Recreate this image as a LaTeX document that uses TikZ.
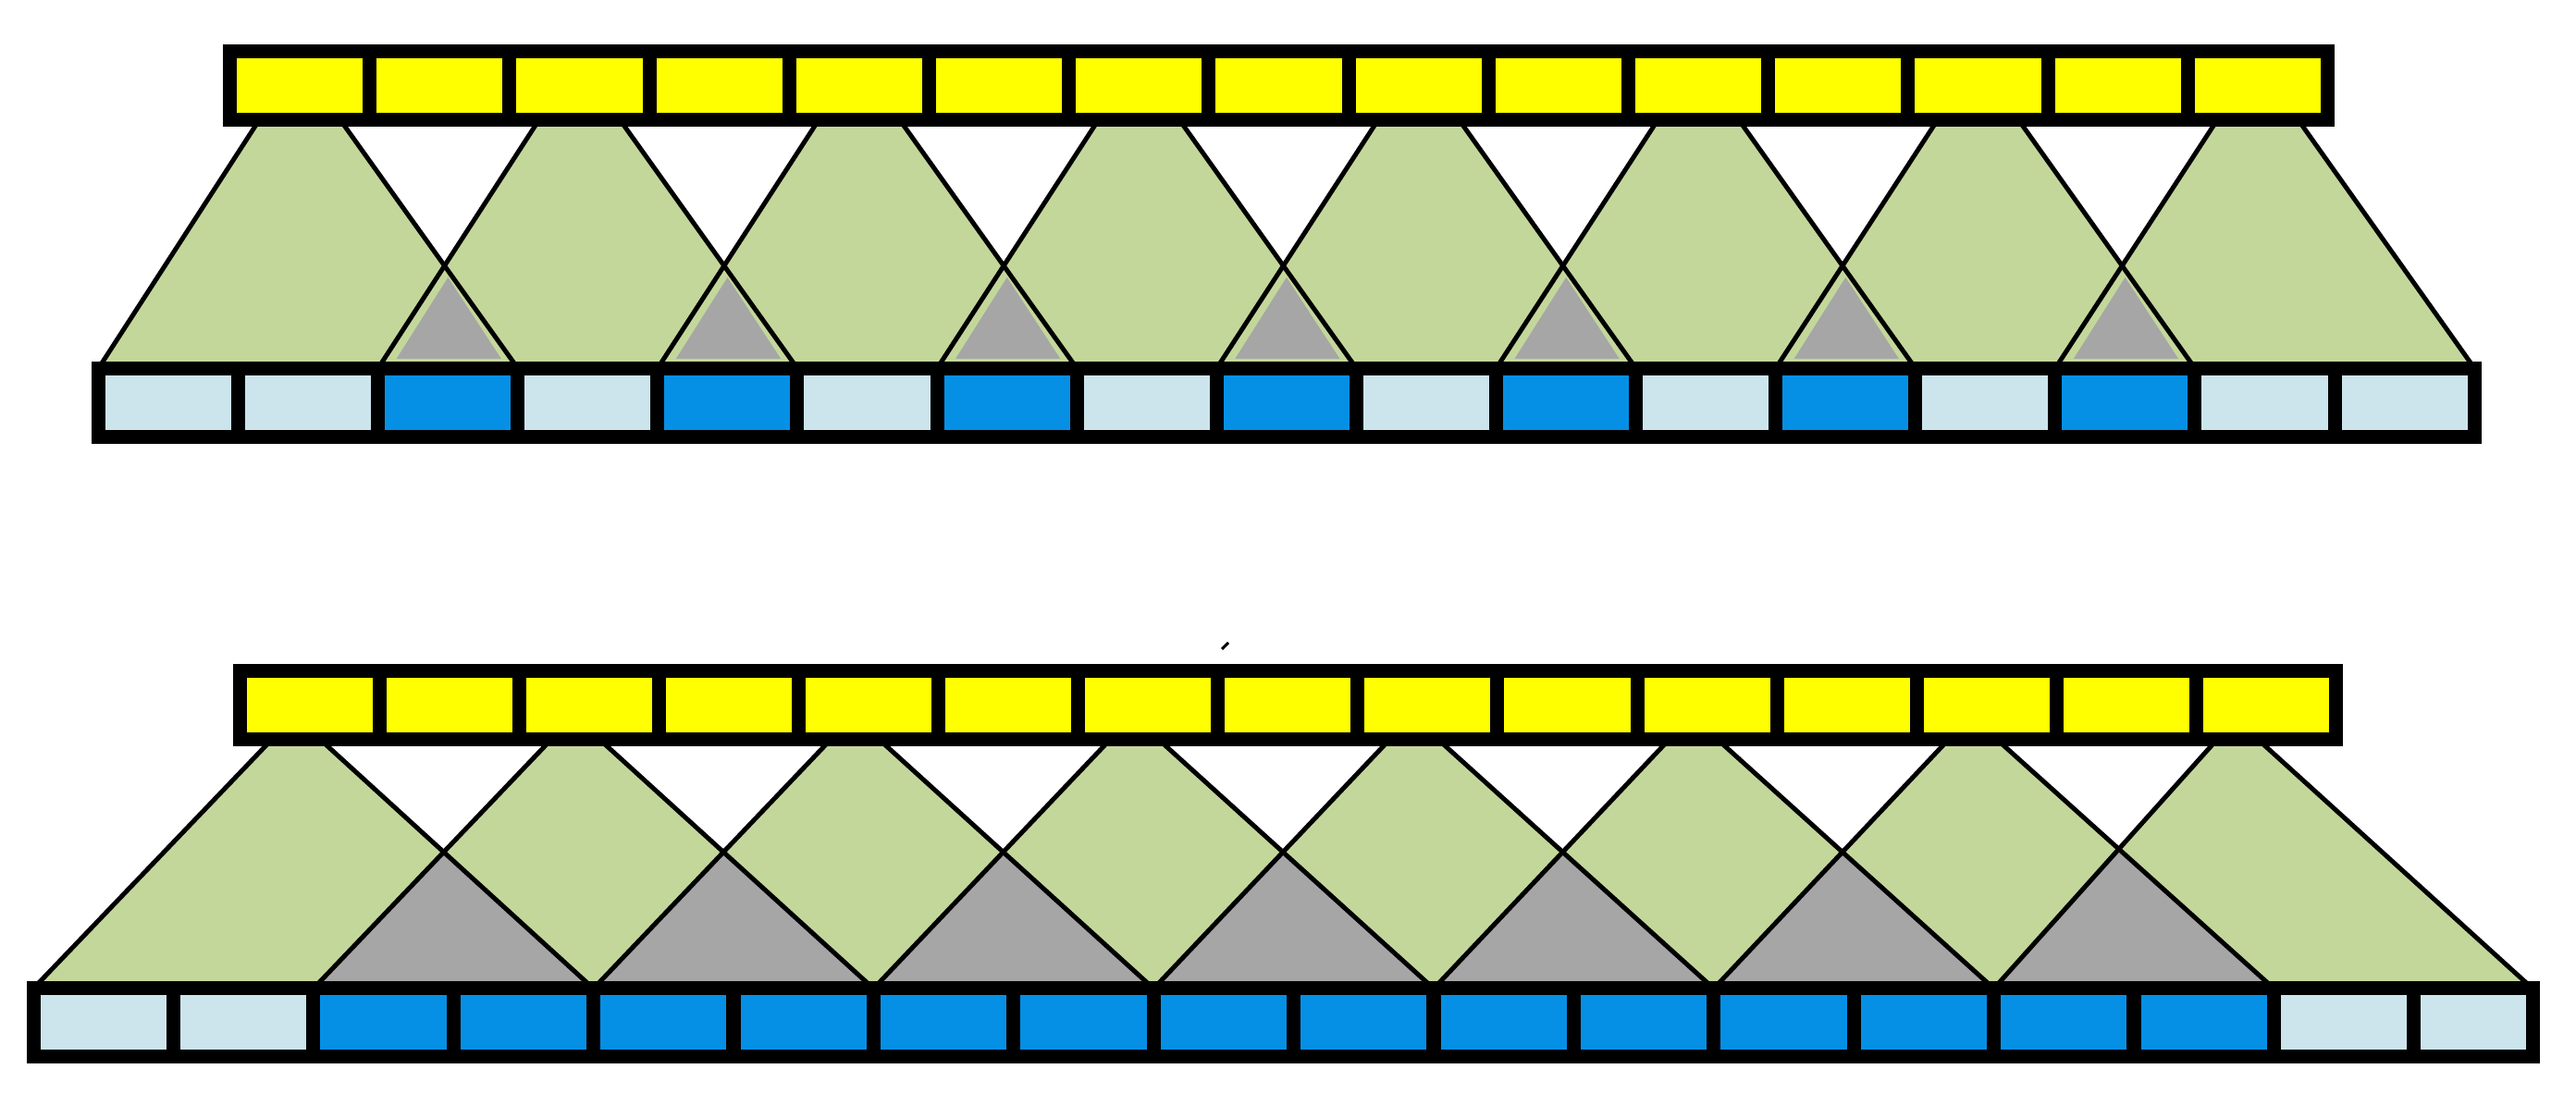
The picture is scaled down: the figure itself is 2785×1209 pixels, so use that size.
\documentclass[tikz,border=0pt]{standalone}
\usetikzlibrary{backgrounds}
\definecolor{cellyellow}{RGB}{255,255,0}
\definecolor{paleblue}{RGB}{204,228,236}
\definecolor{deepblue}{RGB}{5,144,230}
\definecolor{leafgreen}{RGB}{196,215,155}
\definecolor{lapgray}{RGB}{166,166,166}
\begin{document}
\begin{tikzpicture}[>=latex,line join=bevel,
  cell/.style={draw=black,line width=15bp,line join=miter,inner sep=0pt,outer sep=0pt,minimum width=151.3bp,minimum height=74bp},
  yel/.style={cell,fill=cellyellow},
  pale/.style={cell,fill=paleblue},
  blu/.style={cell,fill=deepblue},
  leaf/.style={fill=leafgreen},
  lap/.style={fill=lapgray},
  rim/.style={draw=black,line width=5bp},
]
%%
\useasboundingbox (0bp,0bp) rectangle (2785bp,1209bp);
  \node (t1-0) at (324.1bp,1116bp) [yel] {};
  \node (t1-1) at (475.3bp,1116bp) [yel] {};
  \node (t1-2) at (626.5bp,1116bp) [yel] {};
  \node (t1-3) at (777.7bp,1116bp) [yel] {};
  \node (t1-4) at (928.9bp,1116bp) [yel] {};
  \node (t1-5) at (1080.1bp,1116bp) [yel] {};
  \node (t1-6) at (1231.3bp,1116bp) [yel] {};
  \node (t1-7) at (1382.5bp,1116bp) [yel] {};
  \node (t1-8) at (1533.7bp,1116bp) [yel] {};
  \node (t1-9) at (1684.9bp,1116bp) [yel] {};
  \node (t1-10) at (1836.1bp,1116bp) [yel] {};
  \node (t1-11) at (1987.3bp,1116bp) [yel] {};
  \node (t1-12) at (2138.5bp,1116bp) [yel] {};
  \node (t1-13) at (2289.7bp,1116bp) [yel] {};
  \node (t1-14) at (2440.9bp,1116bp) [yel] {};
  \node (b1-0) at (182.0bp,773.5bp) [pale] {};
  \node (b1-1) at (333.2bp,773.5bp) [pale] {};
  \node (b1-2) at (484.3bp,773.5bp) [blu] {};
  \node (b1-3) at (635.4bp,773.5bp) [pale] {};
  \node (b1-4) at (786.5bp,773.5bp) [blu] {};
  \node (b1-5) at (937.6bp,773.5bp) [pale] {};
  \node (b1-6) at (1088.7bp,773.5bp) [blu] {};
  \node (b1-7) at (1239.8bp,773.5bp) [pale] {};
  \node (b1-8) at (1390.9bp,773.5bp) [blu] {};
  \node (b1-9) at (1542.0bp,773.5bp) [pale] {};
  \node (b1-10) at (1693.1bp,773.5bp) [blu] {};
  \node (b1-11) at (1844.2bp,773.5bp) [pale] {};
  \node (b1-12) at (1995.3bp,773.5bp) [blu] {};
  \node (b1-13) at (2146.4bp,773.5bp) [pale] {};
  \node (b1-14) at (2297.5bp,773.5bp) [blu] {};
  \node (b1-15) at (2448.6bp,773.5bp) [pale] {};
  \node (b1-16) at (2599.7bp,773.5bp) [pale] {};
  \node (t2-0) at (335.0bp,446.5bp) [yel] {};
  \node (t2-1) at (486.1bp,446.5bp) [yel] {};
  \node (t2-2) at (637.1bp,446.5bp) [yel] {};
  \node (t2-3) at (788.2bp,446.5bp) [yel] {};
  \node (t2-4) at (939.3bp,446.5bp) [yel] {};
  \node (t2-5) at (1090.4bp,446.5bp) [yel] {};
  \node (t2-6) at (1241.4bp,446.5bp) [yel] {};
  \node (t2-7) at (1392.5bp,446.5bp) [yel] {};
  \node (t2-8) at (1543.6bp,446.5bp) [yel] {};
  \node (t2-9) at (1694.6bp,446.5bp) [yel] {};
  \node (t2-10) at (1845.7bp,446.5bp) [yel] {};
  \node (t2-11) at (1996.8bp,446.5bp) [yel] {};
  \node (t2-12) at (2147.8bp,446.5bp) [yel] {};
  \node (t2-13) at (2298.9bp,446.5bp) [yel] {};
  \node (t2-14) at (2450.0bp,446.5bp) [yel] {};
  \node (b2-0) at (111.7bp,103bp) [pale] {};
  \node (b2-1) at (263.1bp,103bp) [pale] {};
  \node (b2-2) at (414.5bp,103bp) [blu] {};
  \node (b2-3) at (565.9bp,103bp) [blu] {};
  \node (b2-4) at (717.3bp,103bp) [blu] {};
  \node (b2-5) at (868.7bp,103bp) [blu] {};
  \node (b2-6) at (1020.1bp,103bp) [blu] {};
  \node (b2-7) at (1171.5bp,103bp) [blu] {};
  \node (b2-8) at (1322.9bp,103bp) [blu] {};
  \node (b2-9) at (1474.3bp,103bp) [blu] {};
  \node (b2-10) at (1625.7bp,103bp) [blu] {};
  \node (b2-11) at (1777.1bp,103bp) [blu] {};
  \node (b2-12) at (1928.5bp,103bp) [blu] {};
  \node (b2-13) at (2079.9bp,103bp) [blu] {};
  \node (b2-14) at (2231.3bp,103bp) [blu] {};
  \node (b2-15) at (2382.7bp,103bp) [blu] {};
  \node (b2-16) at (2534.1bp,103bp) [pale] {};
  \node (b2-17) at (2673.9bp,103bp) [pale,minimum width=128.2bp] {};
  \draw [line width=3bp] (1321bp,507bp) -- (1328bp,514bp);
\begin{scope}[on background layer]
  \fill [white] (0bp,0bp) rectangle (2785bp,1209bp);
  \fill [leaf] ([xshift=-44bp]t1-0.south) -- ([xshift=44bp]t1-0.south) -- (b1-2.north east) -- (b1-0.north west) -- cycle;
  \fill [leaf] ([xshift=-44bp]t1-2.south) -- ([xshift=44bp]t1-2.south) -- (b1-4.north east) -- (b1-2.north west) -- cycle;
  \fill [leaf] ([xshift=-44bp]t1-4.south) -- ([xshift=44bp]t1-4.south) -- (b1-6.north east) -- (b1-4.north west) -- cycle;
  \fill [leaf] ([xshift=-44bp]t1-6.south) -- ([xshift=44bp]t1-6.south) -- (b1-8.north east) -- (b1-6.north west) -- cycle;
  \fill [leaf] ([xshift=-44bp]t1-8.south) -- ([xshift=44bp]t1-8.south) -- (b1-10.north east) -- (b1-8.north west) -- cycle;
  \fill [leaf] ([xshift=-44bp]t1-10.south) -- ([xshift=44bp]t1-10.south) -- (b1-12.north east) -- (b1-10.north west) -- cycle;
  \fill [leaf] ([xshift=-44bp]t1-12.south) -- ([xshift=44bp]t1-12.south) -- (b1-14.north east) -- (b1-12.north west) -- cycle;
  \fill [leaf] ([xshift=-44bp]t1-14.south) -- ([xshift=44bp]t1-14.south) -- (b1-16.north east) -- (b1-14.north west) -- cycle;
  \fill [lap] ([xshift=20bp,yshift=10.5bp]b1-2.north west) -- ([yshift=98.5bp]b1-2.north) -- ([xshift=-18bp,yshift=10.5bp]b1-2.north east) -- cycle;
  \fill [lap] ([xshift=20bp,yshift=10.5bp]b1-4.north west) -- ([yshift=98.5bp]b1-4.north) -- ([xshift=-18bp,yshift=10.5bp]b1-4.north east) -- cycle;
  \fill [lap] ([xshift=20bp,yshift=10.5bp]b1-6.north west) -- ([yshift=98.5bp]b1-6.north) -- ([xshift=-18bp,yshift=10.5bp]b1-6.north east) -- cycle;
  \fill [lap] ([xshift=20bp,yshift=10.5bp]b1-8.north west) -- ([yshift=98.5bp]b1-8.north) -- ([xshift=-18bp,yshift=10.5bp]b1-8.north east) -- cycle;
  \fill [lap] ([xshift=20bp,yshift=10.5bp]b1-10.north west) -- ([yshift=98.5bp]b1-10.north) -- ([xshift=-18bp,yshift=10.5bp]b1-10.north east) -- cycle;
  \fill [lap] ([xshift=20bp,yshift=10.5bp]b1-12.north west) -- ([yshift=98.5bp]b1-12.north) -- ([xshift=-18bp,yshift=10.5bp]b1-12.north east) -- cycle;
  \fill [lap] ([xshift=20bp,yshift=10.5bp]b1-14.north west) -- ([yshift=98.5bp]b1-14.north) -- ([xshift=-18bp,yshift=10.5bp]b1-14.north east) -- cycle;
  \draw [rim] (b1-0.north west) -- ([xshift=-44bp]t1-0.south);
  \draw [rim] (b1-2.north east) -- ([xshift=44bp]t1-0.south);
  \draw [rim] (b1-2.north west) -- ([xshift=-44bp]t1-2.south);
  \draw [rim] (b1-4.north east) -- ([xshift=44bp]t1-2.south);
  \draw [rim] (b1-4.north west) -- ([xshift=-44bp]t1-4.south);
  \draw [rim] (b1-6.north east) -- ([xshift=44bp]t1-4.south);
  \draw [rim] (b1-6.north west) -- ([xshift=-44bp]t1-6.south);
  \draw [rim] (b1-8.north east) -- ([xshift=44bp]t1-6.south);
  \draw [rim] (b1-8.north west) -- ([xshift=-44bp]t1-8.south);
  \draw [rim] (b1-10.north east) -- ([xshift=44bp]t1-8.south);
  \draw [rim] (b1-10.north west) -- ([xshift=-44bp]t1-10.south);
  \draw [rim] (b1-12.north east) -- ([xshift=44bp]t1-10.south);
  \draw [rim] (b1-12.north west) -- ([xshift=-44bp]t1-12.south);
  \draw [rim] (b1-14.north east) -- ([xshift=44bp]t1-12.south);
  \draw [rim] (b1-14.north west) -- ([xshift=-44bp]t1-14.south);
  \draw [rim] (b1-16.north east) -- ([xshift=44bp]t1-14.south);
  \fill [leaf] ([xshift=-41bp]t2-0.south) -- ([xshift=11bp]t2-0.south) -- (b2-3.north east) -- (b2-0.north west) -- cycle;
  \fill [leaf] ([xshift=-41bp]t2-2.south) -- ([xshift=11bp]t2-2.south) -- (b2-5.north east) -- (b2-2.north west) -- cycle;
  \fill [leaf] ([xshift=-41bp]t2-4.south) -- ([xshift=11bp]t2-4.south) -- (b2-7.north east) -- (b2-4.north west) -- cycle;
  \fill [leaf] ([xshift=-41bp]t2-6.south) -- ([xshift=11bp]t2-6.south) -- (b2-9.north east) -- (b2-6.north west) -- cycle;
  \fill [leaf] ([xshift=-41bp]t2-8.south) -- ([xshift=11bp]t2-8.south) -- (b2-11.north east) -- (b2-8.north west) -- cycle;
  \fill [leaf] ([xshift=-41bp]t2-10.south) -- ([xshift=11bp]t2-10.south) -- (b2-13.north east) -- (b2-10.north west) -- cycle;
  \fill [leaf] ([xshift=-41bp]t2-12.south) -- ([xshift=11bp]t2-12.south) -- (b2-15.north east) -- (b2-12.north west) -- cycle;
  \fill [leaf] ([xshift=-53bp]t2-14.south) -- ([xshift=-9bp]t2-14.south) -- (b2-17.north east) -- (b2-14.north west) -- cycle;
  \fill [lap] (b2-2.north west) -- (479.7bp,287.2bp) -- (b2-3.north east) -- cycle;
  \fill [lap] (b2-4.north west) -- (782.2bp,287.2bp) -- (b2-5.north east) -- cycle;
  \fill [lap] (b2-6.north west) -- (1084.6bp,287.2bp) -- (b2-7.north east) -- cycle;
  \fill [lap] (b2-8.north west) -- (1387.0bp,287.2bp) -- (b2-9.north east) -- cycle;
  \fill [lap] (b2-10.north west) -- (1689.5bp,287.2bp) -- (b2-11.north east) -- cycle;
  \fill [lap] (b2-12.north west) -- (1991.9bp,287.2bp) -- (b2-13.north east) -- cycle;
  \fill [lap] (b2-14.north west) -- (2290.7bp,290.5bp) -- (b2-15.north east) -- cycle;
  \draw [rim] (b2-0.north west) -- ([xshift=-41bp]t2-0.south);
  \draw [rim] (b2-3.north east) -- ([xshift=11bp]t2-0.south);
  \draw [rim] (b2-2.north west) -- ([xshift=-41bp]t2-2.south);
  \draw [rim] (b2-5.north east) -- ([xshift=11bp]t2-2.south);
  \draw [rim] (b2-4.north west) -- ([xshift=-41bp]t2-4.south);
  \draw [rim] (b2-7.north east) -- ([xshift=11bp]t2-4.south);
  \draw [rim] (b2-6.north west) -- ([xshift=-41bp]t2-6.south);
  \draw [rim] (b2-9.north east) -- ([xshift=11bp]t2-6.south);
  \draw [rim] (b2-8.north west) -- ([xshift=-41bp]t2-8.south);
  \draw [rim] (b2-11.north east) -- ([xshift=11bp]t2-8.south);
  \draw [rim] (b2-10.north west) -- ([xshift=-41bp]t2-10.south);
  \draw [rim] (b2-13.north east) -- ([xshift=11bp]t2-10.south);
  \draw [rim] (b2-12.north west) -- ([xshift=-41bp]t2-12.south);
  \draw [rim] (b2-15.north east) -- ([xshift=11bp]t2-12.south);
  \draw [rim] (b2-14.north west) -- ([xshift=-53bp]t2-14.south);
  \draw [rim] (b2-17.north east) -- ([xshift=-9bp]t2-14.south);
\end{scope}
%
\end{tikzpicture}
\end{document}
